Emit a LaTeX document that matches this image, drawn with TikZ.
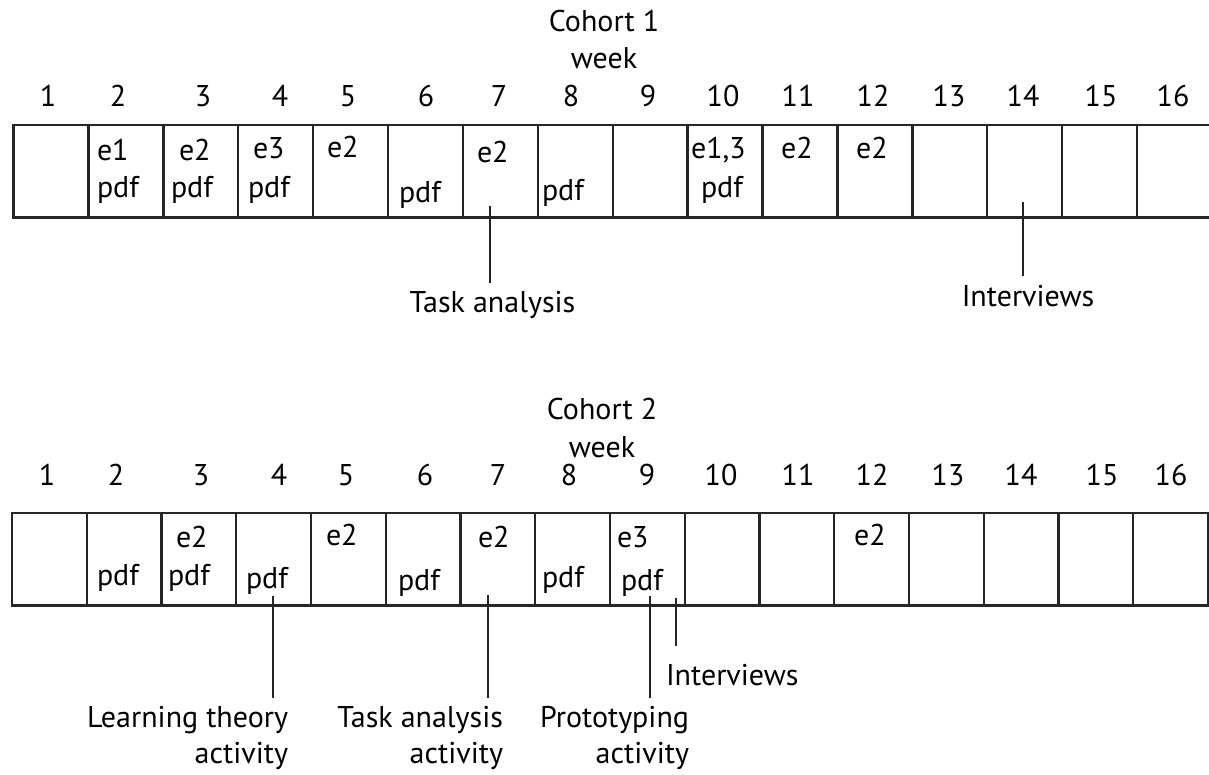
\documentclass[tikz,border=0pt]{standalone}
\usepackage{fontspec}
\setmainfont{PT Sans}
\begin{document}
\begin{tikzpicture}[x=1pt,y=-1pt,
  txt/.style={font=\fontsize{30}{36}\selectfont, inner sep=0pt, outer sep=0pt},
  cell/.style={draw=black!85, line width=2.4pt, minimum height=92.5pt, inner sep=0pt, outer sep=0pt},
  conn/.style={draw=black!85, line width=2pt},
  lab/.style={txt, anchor=base west},
  num/.style={txt, anchor=base}]
\useasboundingbox (0,0) rectangle (1209,774);

% ---------------- Cohort 1 ----------------
\node[txt, align=center, anchor=base, font=\fontsize{30}{37}\selectfont] (t1) at (604,68) {Cohort 1\\week};
\foreach \n/\x in {1/48,2/118,3/203,4/280,5/348,6/426,7/499,8/571,9/648,10/723,11/798,12/873,13/949,14/1023,15/1101,16/1173}
  \node[num] (na\n) at (\x,106) {\n};
\foreach \i in {1,...,16}
  \node[cell, minimum width=74.9pt, anchor=north west] (a\i) at ({13.5+74.9*(\i-1)},125) {};

\node[lab] (a2e) at (97,160) {e1};
\node[lab] (a2p) at (97,197) {pdf};
\node[lab] (a3e) at (179,160) {e2};
\node[lab] (a3p) at (171,197) {pdf};
\node[lab] (a4e) at (253,158) {e3};
\node[lab] (a4p) at (248,197) {pdf};
\node[lab] (a5e) at (327,157) {e2};
\node[lab] (a6p) at (399,202) {pdf};
\node[lab] (a7e) at (477,162) {e2};
\node[lab] (a8p) at (542,200) {pdf};
\node[lab] (a10e) at (691,158) {e1,3};
\node[lab] (a10p) at (701,197) {pdf};
\node[lab] (a11e) at (781,158) {e2};
\node[lab] (a12e) at (856,158) {e2};

\coordinate (ta1s) at (490,206);
\node[txt, anchor=base] (ta1) at (492.5,312) {Task analysis};
\draw[conn] (ta1s) -- ([yshift=8pt]ta1s |- ta1.north);
\coordinate (iv1s) at (1023,202);
\node[txt, anchor=base] (iv1) at (1028,306) {Interviews};
\draw[conn] (iv1s) -- ([yshift=9pt]iv1s |- iv1.north);

% ---------------- Cohort 2 ----------------
\node[txt, align=center, anchor=base, font=\fontsize{30}{38}\selectfont] (t2) at (602,457) {Cohort 2\\week};
\foreach \n/\x in {1/47,2/116,3/201,4/279,5/346,6/425,7/498,8/569,9/647,10/721,11/798,12/872,13/948,14/1021,15/1102,16/1171}
  \node[num] (nb\n) at (\x,485) {\n};
\foreach \i in {1,...,16}
  \node[cell, minimum width=74.75pt, anchor=north west] (b\i) at ({12+74.75*(\i-1)},513) {};

\node[lab] (b2p) at (97,585) {pdf};
\node[lab] (b3e) at (176,547) {e2};
\node[lab] (b3p) at (168,585) {pdf};
\node[lab] (b4p) at (246,588) {pdf};
\node[lab] (b5e) at (326,545) {e2};
\node[lab] (b6p) at (398,590) {pdf};
\node[lab] (b7e) at (478,547) {e2};
\node[lab] (b8p) at (542,587) {pdf};
\node[lab] (b9e) at (617,547) {e3};
\node[lab] (b9p) at (621,590) {pdf};
\node[lab] (b12e) at (854,545) {e2};

\coordinate (lts) at (273,596);
\coordinate (tas) at (488,595);
\coordinate (prs) at (650,596);
\coordinate (ivs) at (676,598);
\node[txt, align=right, anchor=base east] (lt) at (288,763) {Learning theory\\activity};
\node[txt, align=right, anchor=base east] (ta2) at (503,763) {Task analysis\\activity};
\node[txt, align=right, anchor=base east] (pr) at (689,763) {Prototyping\\activity};
\node[txt, anchor=base west] (iv2) at (666,685) {Interviews};
\draw[conn] (lts) -- ([yshift=8pt]lts |- lt.north);
\draw[conn] (tas) -- ([yshift=8pt]tas |- ta2.north);
\draw[conn] (prs) -- ([yshift=8pt]prs |- pr.north);
\draw[conn] (ivs) -- ([yshift=18pt]ivs |- iv2.north);
\end{tikzpicture}
\end{document}
